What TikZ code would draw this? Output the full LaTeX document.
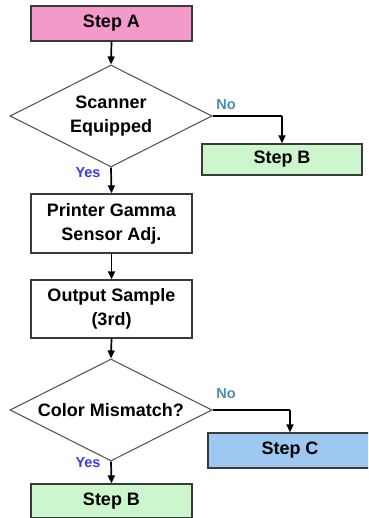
\documentclass[tikz,border=0pt]{standalone}
\usepackage{fontspec}
\setmainfont{Liberation Sans}
\usetikzlibrary{shapes.geometric,arrows.meta}
\definecolor{pinkA}{HTML}{F49ACB}
\definecolor{greenB}{HTML}{CCF7CC}
\definecolor{blueC}{HTML}{9CC8F2}
\definecolor{noCol}{HTML}{4A8DB5}
\definecolor{yesCol}{HTML}{3A3AF0}
\definecolor{edgeCol}{HTML}{3A3A3A}
\tikzset{
  procbox/.style={draw=edgeCol, line width=1.3pt, rectangle, inner sep=0pt,
    font=\fontsize{18}{24}\selectfont\bfseries, align=center},
  decbox/.style={draw=black!65, line width=1.1pt, diamond, aspect=2, inner sep=0pt,
    minimum width=202pt, minimum height=102pt,
    font=\fontsize{18}{23.5}\selectfont\bfseries, align=center},
  conn/.style={line width=1.7pt, black, -{Triangle[length=8pt,width=7pt]}},
  nolab/.style={text=noCol, font=\fontsize{14.5}{16}\selectfont\bfseries, inner sep=0pt},
  yeslab/.style={text=yesCol, font=\fontsize{14.5}{16}\selectfont\bfseries, inner sep=0pt}
}
\begin{document}
\begin{tikzpicture}[x=1pt,y=-1pt]
\clip (0,0) rectangle (368,518);
\fill[white] (0,0) rectangle (368,518);
\node[procbox, fill=pinkA, minimum width=161pt, minimum height=35pt] (A) at (111.5,23.5) {Step A};
\node[decbox] (D1) at (111,116) {Scanner\\Equipped};
\node[procbox, fill=greenB, minimum width=160pt, minimum height=31pt] (B1) at (282,159.5) {Step B};
\node[procbox, fill=white, minimum width=161pt, minimum height=59pt] (P) at (111.5,223.5) {Printer Gamma\\Sensor Adj.};
\node[procbox, fill=white, minimum width=161pt, minimum height=58pt] (O) at (111.5,309) {Output Sample\\(3rd)};
\node[decbox] (D2) at (111,410) {Color Mismatch?};
\node[procbox, fill=blueC, minimum width=164pt, minimum height=35pt] (C) at (290,450.5) {Step C};
\node[procbox, fill=greenB, minimum width=161pt, minimum height=34pt] (B2) at (111.5,501) {Step B};
\coordinate (k1) at (282,116);
\coordinate (k2) at (290,410);
\draw[conn] (A.south) -- (D1.north);
\draw[conn, -] (D1.east) -- (k1);
\draw[conn] (k1) -- (B1.north);
\draw[conn] (D1.south) -- (P.north);
\draw[conn] (P.south) -- (O.north);
\draw[conn] (O.south) -- (D2.north);
\draw[conn, -] (D2.east) -- (k2);
\draw[conn] (k2) -- (C.north);
\draw[conn] (D2.south) -- (B2.north);
\node[nolab] (n1) at (226,105) {No};
\node[yeslab] (y1) at (88,173) {Yes};
\node[nolab] (n2) at (226,394) {No};
\node[yeslab] (y2) at (88,463) {Yes};
\end{tikzpicture}
\end{document}
